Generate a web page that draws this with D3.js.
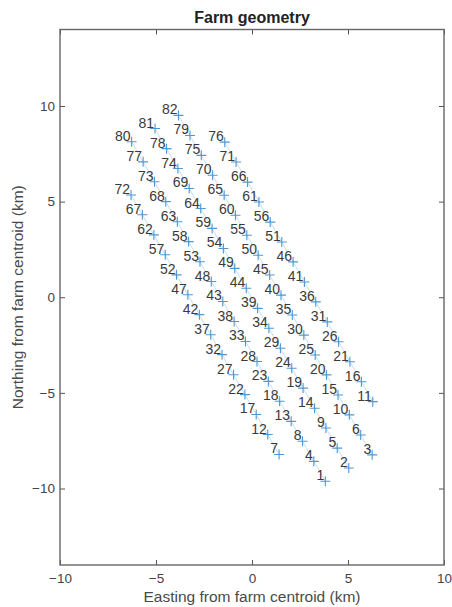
<!DOCTYPE html>
<html>
<head>
<meta charset="utf-8">
<script src="https://cdn.jsdelivr.net/npm/d3@7"></script>
<style>
  html, body { margin: 0; padding: 0; background: #fff; }
  svg { display: block; font-family: "Liberation Sans", Arial, Helvetica, sans-serif; }
</style>
</head>
<body>
<svg id="chart" width="452" height="607"></svg>
<script>
// Turbine numbers and their positions relative to the farm centroid (km)
const turbineIds = [1,2,3,4,5,6,7,8,9,10,11,12,13,14,15,16,17,18,19,20,21,22,23,24,25,26,27,28,29,30,
  31,32,33,34,35,36,37,38,39,40,41,42,43,44,45,46,47,48,49,50,51,52,53,54,55,56,57,58,59,60,
  61,62,63,64,65,66,67,68,69,70,71,72,73,74,75,76,77,78,79,80,81,82];

const easting = [3.82,5.04,6.26,3.22,4.44,5.66,1.41,2.63,3.85,5.07,6.29,0.82,2.04,3.26,4.48,5.70,
  0.22,1.44,2.66,3.88,5.10,-0.37,0.85,2.07,3.29,4.51,-0.96,0.26,1.48,2.70,3.92,-1.56,-0.34,0.88,
  2.10,3.32,-2.15,-0.93,0.29,1.51,2.73,-2.74,-1.52,-0.30,0.92,2.14,-3.34,-2.12,-0.90,0.32,1.55,
  -3.93,-2.71,-1.49,-0.27,0.95,-4.52,-3.30,-2.08,-0.86,0.36,-5.11,-3.89,-2.67,-1.45,-0.23,-5.71,
  -4.49,-3.27,-2.05,-0.83,-6.30,-5.08,-3.86,-2.64,-1.42,-5.67,-4.45,-3.23,-6.27,-5.05,-3.83];

const northing = [-9.62,-8.93,-8.24,-8.58,-7.89,-7.20,-8.22,-7.53,-6.84,-6.15,-5.46,-7.18,-6.49,
  -5.80,-5.11,-4.42,-6.13,-5.44,-4.75,-4.06,-3.37,-5.09,-4.40,-3.71,-3.02,-2.33,-4.05,-3.36,-2.67,
  -1.98,-1.29,-3.00,-2.31,-1.62,-0.93,-0.24,-1.96,-1.27,-0.58,0.11,0.80,-0.91,-0.22,0.47,1.16,1.85,
  0.13,0.82,1.51,2.20,2.89,1.17,1.86,2.55,3.24,3.93,2.22,2.91,3.60,4.29,4.98,3.26,3.95,4.64,5.33,
  6.02,4.31,5.00,5.69,6.38,7.07,5.35,6.04,6.73,7.42,8.11,7.08,7.77,8.46,8.13,8.82,9.51];

// Turbine strings, listed from north-west end to south-east end
const strings = [
  [72,67,62,57,52,47,42,37,32,27,22,17,12,7],
  [80,77,73,68,63,58,53,48,43,38,33,28,23,18,13,8,4,1],
  [81,78,74,69,64,59,54,49,44,39,34,29,24,19,14,9,5,2],
  [82,79,75,70,65,60,55,50,45,40,35,30,25,20,15,10,6,3],
  [76,71,66,61,56,51,46,41,36,31,26,21,16,11]
];

const xTicks = [-10, -5, 0, 5, 10];
const yTicks = [-10, -5, 0, 5, 10];

const svg = d3.select("#chart");
const plotLeft = 60, plotRight = 444, plotTop = 29.5, plotBottom = 565;

const x = d3.scaleLinear().domain([-10, 10]).range([plotLeft, plotRight]);
const y = d3.scaleLinear().domain([-14, 14]).range([plotBottom, plotTop]);

const turbines = turbineIds.map((id, i) => ({ id, e: easting[i], n: northing[i] }));
const byId = new Map(turbines.map(t => [t.id, t]));

// Axes: ticks point inward on all four sides
function styleAxis(g, showLabels) {
  g.select(".domain").remove();
  g.selectAll(".tick line").attr("stroke", "#555").attr("stroke-width", 1);
  g.selectAll(".tick text")
    .attr("fill", showLabels ? "#444" : "none")
    .style("font-size", "13.5px");
}

svg.append("g").attr("transform", `translate(0,${plotBottom})`)
  .call(d3.axisBottom(x).tickValues(xTicks).tickSizeInner(-5).tickSizeOuter(0).tickPadding(8)
    .tickFormat(d3.format("d")))
  .call(g => styleAxis(g, true));
svg.append("g").attr("transform", `translate(0,${plotTop})`)
  .call(d3.axisTop(x).tickValues(xTicks).tickSizeInner(-5).tickSizeOuter(0).tickFormat(""))
  .call(g => styleAxis(g, false));
svg.append("g").attr("transform", `translate(${plotLeft},0)`)
  .call(d3.axisLeft(y).tickValues(yTicks).tickSizeInner(-5).tickSizeOuter(0).tickPadding(5)
    .tickFormat(d3.format("d")))
  .call(g => styleAxis(g, true));
svg.append("g").attr("transform", `translate(${plotRight},0)`)
  .call(d3.axisRight(y).tickValues(yTicks).tickSizeInner(-5).tickSizeOuter(0).tickFormat(""))
  .call(g => styleAxis(g, false));

// Frame
svg.append("rect")
  .attr("x", plotLeft).attr("y", plotTop)
  .attr("width", plotRight - plotLeft).attr("height", plotBottom - plotTop)
  .attr("fill", "none").attr("stroke", "#666").attr("stroke-width", 1.4);

// String cabling
const line = d3.line().x(t => x(t.e)).y(t => y(t.n));
svg.append("g").selectAll("path")
  .data(strings)
  .join("path")
  .attr("d", s => line(s.map(id => byId.get(id))))
  .attr("fill", "none")
  .attr("stroke", "#a9d0ee")
  .attr("stroke-width", 1)
  .attr("opacity", 0.7);

// Turbine markers
const arm = 5;
svg.append("g").selectAll("path")
  .data(turbines)
  .join("path")
  .attr("d", t => {
    const cx = x(t.e), cy = y(t.n);
    return `M${cx - arm},${cy}H${cx + arm}M${cx},${cy - arm}V${cy + arm}`;
  })
  .attr("stroke", "#4f98d2")
  .attr("stroke-width", 1.1)
  .attr("fill", "none");

// Turbine numbers
svg.append("g").selectAll("text")
  .data(turbines)
  .join("text")
  .attr("x", t => x(t.e) - 1)
  .attr("y", t => y(t.n) - 1)
  .attr("text-anchor", "end")
  .attr("fill", "#3a3a3a")
  .style("font-size", "14px")
  .text(t => t.id);

// Titles
svg.append("text")
  .attr("x", (plotLeft + plotRight) / 2).attr("y", 23)
  .attr("text-anchor", "middle")
  .attr("fill", "#222")
  .style("font-size", "16px").style("font-weight", "bold")
  .text("Farm geometry");

svg.append("text")
  .attr("x", (plotLeft + plotRight) / 2).attr("y", 602)
  .attr("text-anchor", "middle")
  .attr("fill", "#4a4a4a")
  .style("font-size", "15.5px")
  .text("Easting from farm centroid (km)");

svg.append("text")
  .attr("transform", `translate(23,${(plotTop + plotBottom) / 2}) rotate(-90)`)
  .attr("text-anchor", "middle")
  .attr("fill", "#4a4a4a")
  .style("font-size", "15.5px")
  .text("Northing from farm centroid (km)");
</script>
</body>
</html>
